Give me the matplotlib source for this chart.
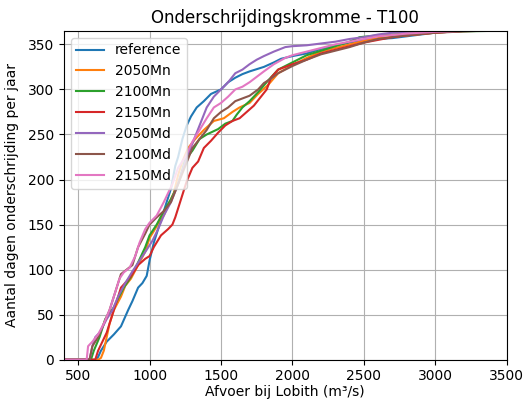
"""Onderschrijdingskromme T100 - afvoer bij Lobith."""

import matplotlib

matplotlib.use("Agg")
import matplotlib.pyplot as plt


ref_q = [300, 620, 640, 660, 700, 750, 800, 850, 880, 920, 950, 980, 1000, 1030,
         1060, 1100, 1150, 1180, 1200, 1230, 1260, 1290, 1330, 1380, 1430, 1500,
         1550, 1600, 1650, 1700, 1800, 1870, 1920, 2000, 2100, 2200, 2300, 2400,
         2500, 2600, 2700, 2800, 2900, 3000, 3100, 3200]
ref_d = [0, 0, 3, 10, 20, 28, 37, 55, 65, 80, 85, 93, 110, 130,
         145, 165, 190, 215, 225, 245, 260, 270, 280, 287, 295, 300,
         308, 313, 317, 320, 325, 330, 334, 337, 340, 345, 349, 352,
         355, 356, 357, 359, 361, 363, 364, 365]

mn2050_q = [300, 640, 660, 680, 700, 720, 750, 800, 830, 870, 920, 970, 1000,
            1050, 1080, 1100, 1130, 1170, 1200, 1230, 1270, 1320, 1380, 1450,
            1520, 1580, 1630, 1700, 1760, 1830, 1900, 2000, 2100, 2200, 2300,
            2400, 2500, 2600, 2800, 3000, 3200]
mn2050_d = [0, 0, 2, 10, 25, 40, 55, 70, 82, 90, 105, 120, 135,
            148, 158, 160, 172, 185, 205, 220, 235, 245, 255, 265,
            268, 275, 280, 285, 295, 305, 318, 327, 335, 342, 346,
            350, 354, 357, 360, 363, 365]

mn2100_q = [300, 590, 610, 650, 670, 690, 720, 750, 780, 820, 870, 920, 970,
            1000, 1050, 1100, 1150, 1200, 1250, 1300, 1350, 1400, 1480, 1530,
            1580, 1610, 1650, 1700, 1760, 1830, 1900, 2000, 2100, 2200, 2300,
            2400, 2470, 2600, 2800, 3000, 3400]
mn2100_d = [0, 0, 10, 25, 35, 45, 52, 58, 68, 80, 92, 108, 125,
            138, 150, 165, 178, 195, 222, 232, 245, 250, 256, 262,
            265, 272, 280, 287, 297, 310, 322, 330, 338, 343, 348,
            353, 358, 360, 362, 364, 365]

mn2150_q = [300, 620, 640, 670, 700, 740, 770, 800, 840, 880, 920, 970, 1000,
            1030, 1080, 1130, 1160, 1180, 1220, 1260, 1300, 1340, 1380, 1430,
            1480, 1530, 1580, 1630, 1680, 1730, 1780, 1820, 1850, 1900, 2000,
            2100, 2200, 2300, 2400, 2500, 2600, 2700, 2800, 3000, 3200]
mn2150_d = [0, 0, 10, 20, 30, 50, 65, 80, 87, 95, 105, 112, 115,
            125, 138, 145, 150, 158, 178, 198, 213, 220, 235, 243,
            252, 260, 265, 268, 275, 282, 292, 300, 313, 322, 328,
            333, 340, 344, 348, 352, 355, 358, 360, 363, 365]

md2050_q = [300, 580, 600, 620, 650, 700, 740, 780, 830, 880, 930, 980, 1020,
            1060, 1100, 1150, 1200, 1250, 1300, 1350, 1400, 1450, 1500, 1550,
            1600, 1650, 1700, 1750, 1800, 1870, 1950, 2000, 2100, 2200, 2300,
            2400, 2500, 2600, 2700, 2800, 3000]
md2050_d = [0, 0, 15, 25, 30, 45, 55, 70, 85, 98, 110, 122, 132,
            145, 160, 175, 195, 220, 240, 260, 280, 292, 300, 308,
            318, 322, 328, 333, 337, 342, 347, 348, 349, 351, 353,
            356, 358, 361, 363, 364, 365]

md2100_q = [300, 580, 600, 640, 680, 720, 750, 780, 800, 840, 880, 920, 970,
            1000, 1050, 1100, 1150, 1200, 1250, 1300, 1350, 1400, 1450, 1500,
            1550, 1600, 1650, 1700, 1760, 1800, 1850, 1900, 2000, 2100, 2200,
            2300, 2400, 2500, 2600, 2700, 2800, 3000, 3300]
md2100_d = [0, 0, 15, 25, 40, 55, 70, 85, 95, 100, 105, 125, 140,
            150, 158, 165, 175, 195, 215, 235, 245, 255, 268, 275,
            280, 287, 290, 293, 300, 307, 312, 318, 326, 333, 339,
            343, 347, 352, 356, 358, 360, 363, 365]

md2150_q = [300, 560, 570, 600, 640, 680, 720, 760, 790, 820, 860, 900, 930,
            970, 1000, 1050, 1100, 1130, 1160, 1200, 1250, 1300, 1350, 1400,
            1450, 1500, 1550, 1600, 1650, 1700, 1750, 1800, 1870, 1950, 2000,
            2100, 2200, 2300, 2400, 2500, 2600, 2800, 3000, 3200]
md2150_d = [0, 0, 15, 20, 28, 40, 55, 75, 90, 97, 102, 115, 130,
            145, 152, 160, 175, 185, 195, 213, 225, 242, 255, 268,
            280, 285, 292, 300, 303, 308, 314, 320, 328, 335, 338,
            342, 346, 350, 353, 356, 359, 362, 364, 365]

SERIES = [
    ("reference", ref_q, ref_d),
    ("2050Mn", mn2050_q, mn2050_d),
    ("2100Mn", mn2100_q, mn2100_d),
    ("2150Mn", mn2150_q, mn2150_d),
    ("2050Md", md2050_q, md2050_d),
    ("2100Md", md2100_q, md2100_d),
    ("2150Md", md2150_q, md2150_d),
]


def main() -> None:
    fig = plt.figure(figsize=(5.23, 4.01), dpi=100)
    ax = fig.add_axes([0.122, 0.103, 0.847, 0.82])
    for label, q, d in SERIES:
        ax.plot(q, d, label=label, lw=1.5)
    ax.set_xlim(400, 3500)
    ax.set_ylim(0, 365)
    ax.grid(True)
    ax.set_title("Onderschrijdingskromme - T100")
    ax.set_xlabel("Afvoer bij Lobith (m³/s)", labelpad=1)
    ax.set_ylabel("Aantal dagen onderschrijding per jaar", labelpad=6)
    ax.legend(loc="upper left")
    fig.savefig("out.png", dpi=100)
    plt.close(fig)


if __name__ == "__main__":
    main()
